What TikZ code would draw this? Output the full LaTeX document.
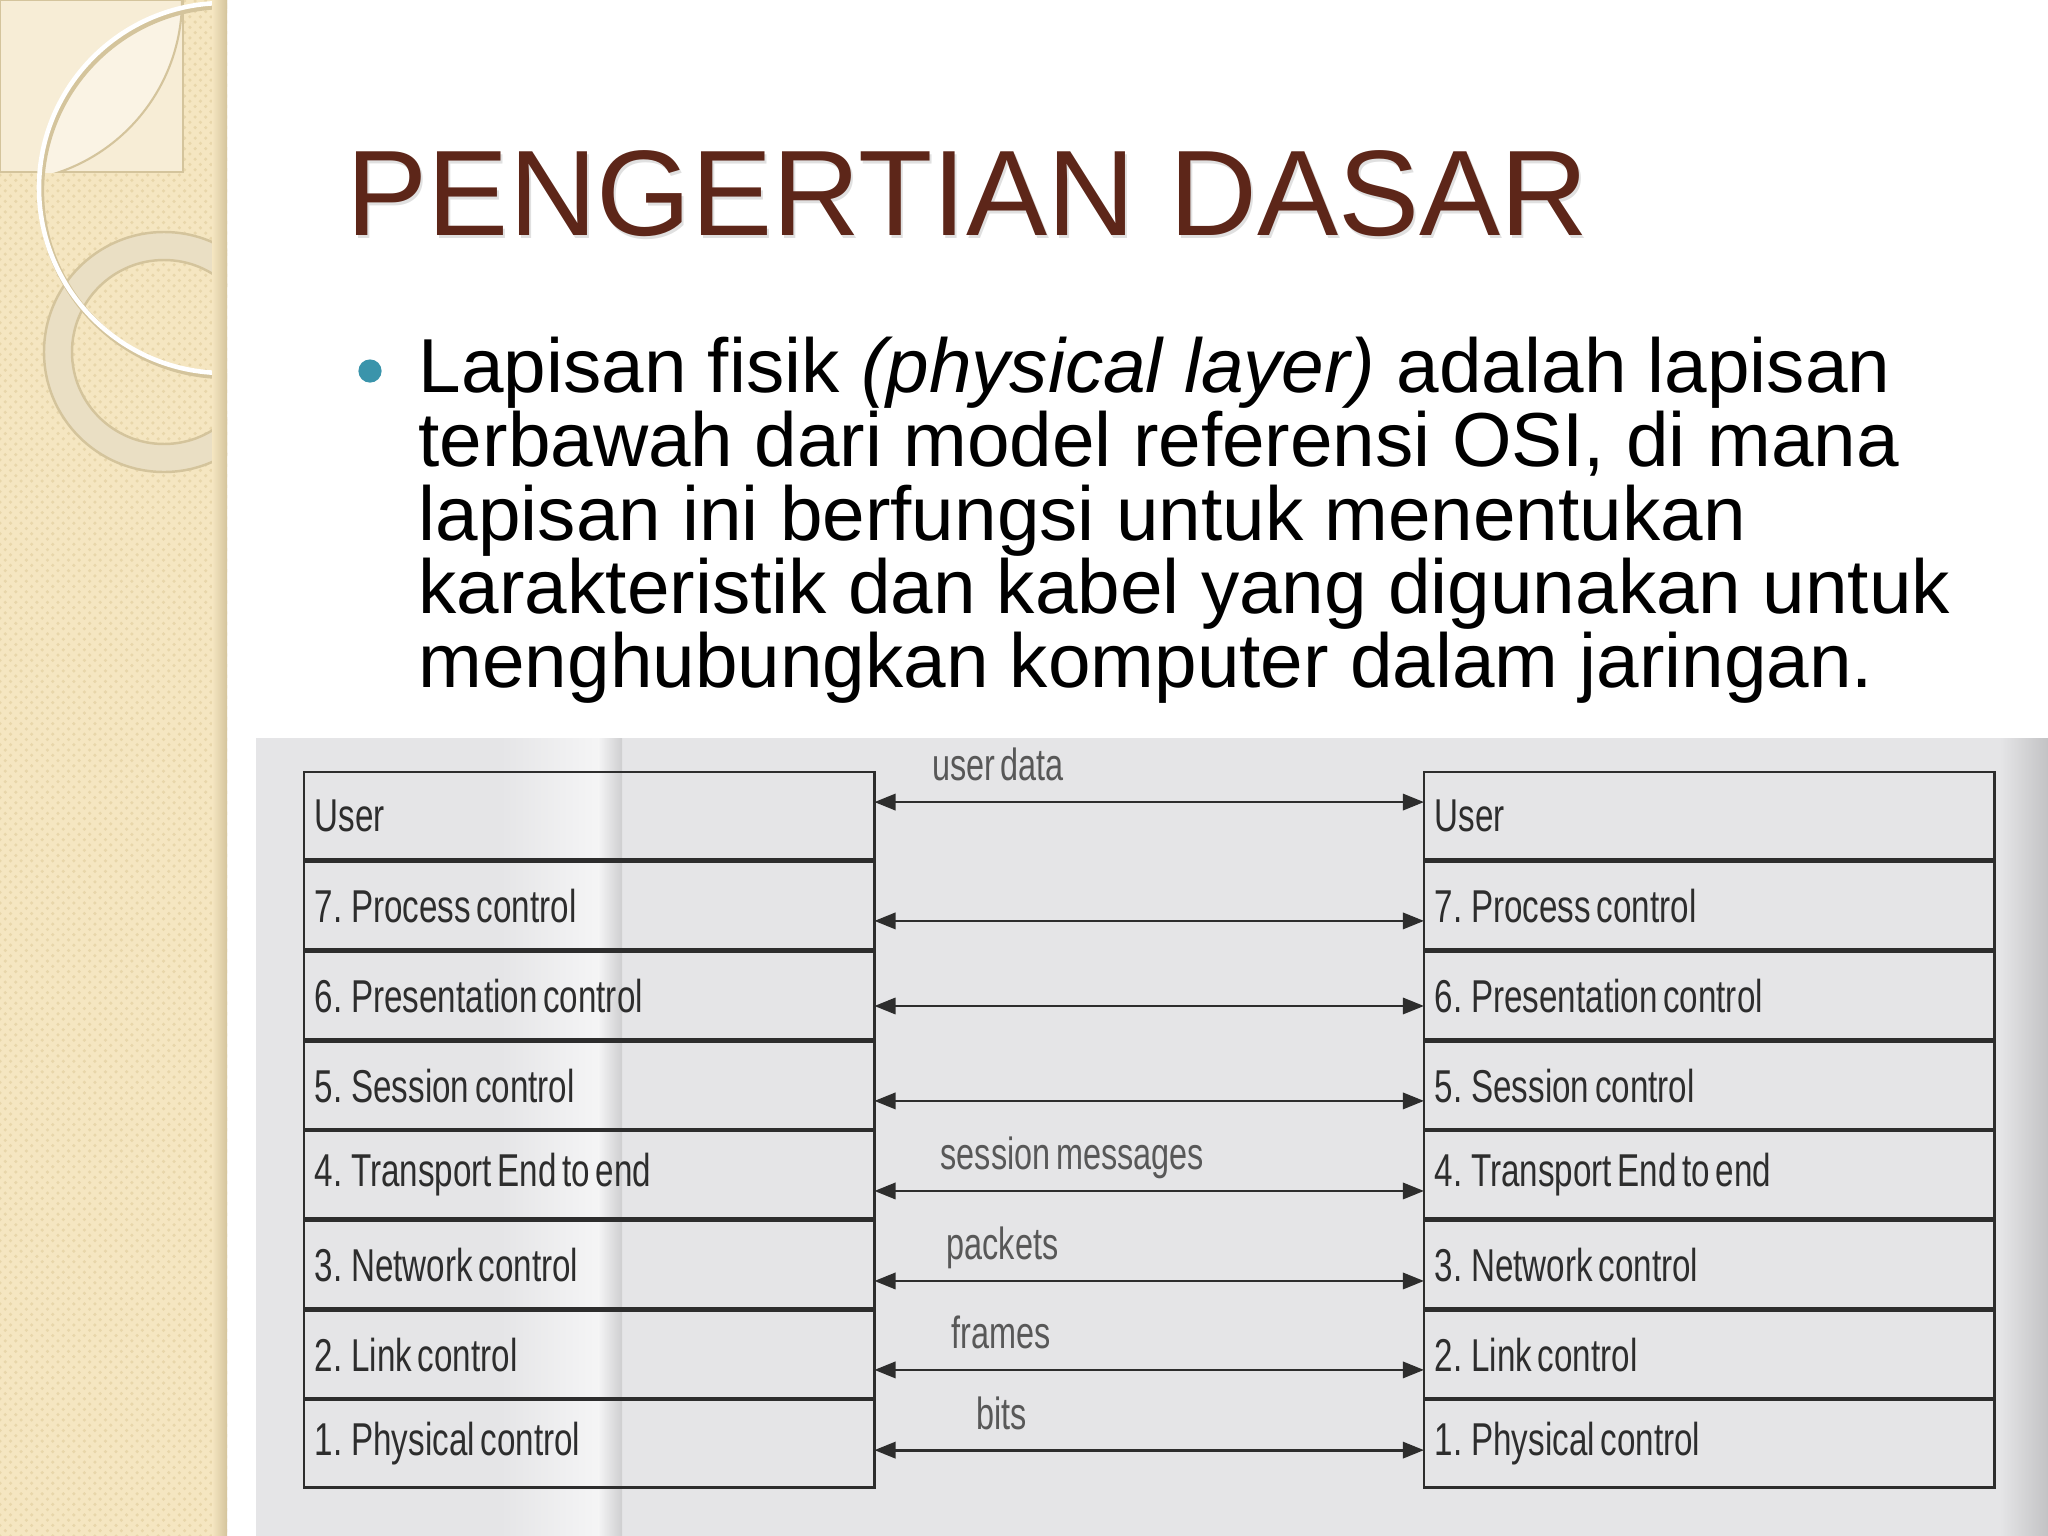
\documentclass[tikz,border=0pt]{standalone}
\usepackage{fontspec}
\setmainfont{Liberation Sans}
\newfontfamily\scanfont[FakeStretch=0.72, WordSpace=0.62]{Liberation Sans}
\usetikzlibrary{arrows.meta,patterns,positioning}

\definecolor{strip}{RGB}{245,230,193}
\definecolor{stripdot}{RGB}{232,214,170}
\definecolor{stripline}{RGB}{212,196,156}
\definecolor{paper}{RGB}{247,237,214}
\definecolor{lens}{RGB}{250,243,228}
\definecolor{ringfill}{RGB}{234,223,196}
\definecolor{titleink}{RGB}{93,38,25}
\definecolor{bulletink}{RGB}{58,148,171}
\definecolor{panel}{RGB}{229,229,231}
\definecolor{ink}{RGB}{45,45,45}
\definecolor{tagink}{RGB}{88,88,88}

\begin{document}
\begin{tikzpicture}[%
  x=0.01cm, y=-0.01cm,
  osibox/.style = {draw=ink, line width=0.65pt, outer sep=0pt, anchor=north west,
    minimum width=162.2pt, minimum height=24.9pt, text width=156pt, inner xsep=3pt,
    align=flush left, text=ink, font=\scanfont\fontsize{13.1}{15}\selectfont},
  flowtag/.style = {anchor=base, yshift=6pt, text=tagink,
    font=\scanfont\fontsize{12.8}{15}\selectfont},
  duplex/.style = {<->, line width=0.8pt, draw=ink},
  bodytext/.style = {anchor=base west, inner sep=0pt, font=\fontsize{21.76}{21}\selectfont},
  titletext/.style = {anchor=base west, inner sep=0pt, font=\fontsize{34.6}{36}\selectfont},
  >={Triangle[length=6pt, width=4.6pt]},
]

  \useasboundingbox (0,0) rectangle (2048,1536);
  \fill[white] (0,0) rectangle (2048,1536);

  % left strip
  \begin{scope}
    \clip (0,0) rectangle (227,1536);
    \fill[strip] (0,0) rectangle (227,1536);
    \fill[pattern=crosshatch dots, pattern color=stripdot] (0,0) rectangle (227,1536);
    \fill[paper, draw=stripline, line width=0.5pt] (0,0) rectangle (183,172);
    \begin{scope}
      \clip (0,0) rectangle (183,172);
      \clip (0,0) circle (182);
      \fill[lens] (224,188) circle (185);
    \end{scope}
    \begin{scope}
      \clip (0,0) rectangle (183,172);
      \draw[stripline, line width=0.6pt] (0,0) circle (182);
    \end{scope}
    % ring
    \draw[ringfill, line width=7.7pt] (164,352) circle (106);
    \draw[stripline, line width=0.7pt] (164,352) circle (120) (164,352) circle (92);
    % thin circle
    \draw[stripline, line width=1.8pt] (226,191) circle (185);
    \draw[white, line width=1.3pt] (224,188) circle (185);
    \shade[left color=strip, right color=stripline] (212,0) rectangle (227,1536);
  \end{scope}

  % title
  \node[titletext, text=black, opacity=0.12] at (348,238) {PENGERTIAN DASAR};
  \node[titletext, text=titleink] (T) at (346,235) {PENGERTIAN DASAR};

  % bullet text
  \node[circle, fill=bulletink, minimum size=6.6pt, inner sep=0pt] (B) at (370,371) {};
  \node[bodytext] (S1) at (418,392) {Lapisan fisik \textit{(physical layer)} adalah lapisan};
  \node[bodytext] (S2) at (418,466) {terbawah dari model referensi OSI, di mana};
  \node[bodytext] (S3) at (418,540) {lapisan ini berfungsi untuk menentukan};
  \node[bodytext] (S4) at (418,613) {karakteristik dan kabel yang digunakan untuk};
  \node[bodytext] (S5) at (418,687) {menghubungkan komputer dalam jaringan.};

  % scanned figure
  \fill[panel] (256,738) rectangle (2048,1536);
  \shade[left color=panel, right color=white!60!panel] (500,738) rectangle (598,1536);
  \shade[left color=white!60!panel, right color=panel!90!black] (598,738) rectangle (622,1536);
  \shade[left color=panel, right color=panel!85!black] (2000,738) rectangle (2048,1536);

  \node[osibox] (LU) at (304,772) {User};
  \node[osibox] (L7) at (304,862) {7. Process control};
  \node[osibox] (L6) at (304,952) {6. Presentation control};
  \node[osibox] (L5) at (304,1042) {5. Session control};
  \node[osibox] (L4) at (304,1131) {4. Transport End to end};
  \node[osibox] (L3) at (304,1221) {3. Network control};
  \node[osibox] (L2) at (304,1311) {2. Link control};
  \node[osibox] (L1) at (304,1400) {1. Physical control};

  \node[osibox] (RU) at (1424,772) {User};
  \node[osibox] (R7) at (1424,862) {7. Process control};
  \node[osibox] (R6) at (1424,952) {6. Presentation control};
  \node[osibox] (R5) at (1424,1042) {5. Session control};
  \node[osibox] (R4) at (1424,1131) {4. Transport End to end};
  \node[osibox] (R3) at (1424,1221) {3. Network control};
  \node[osibox] (R2) at (1424,1311) {2. Link control};
  \node[osibox] (R1) at (1424,1400) {1. Physical control};

  \draw[duplex] ([yshift=3.9pt]LU.east) -- node[flowtag, pos=0.225] {user data} ([yshift=3.9pt]RU.west);
  \draw[duplex] ([yshift=-4.3pt]L7.east) -- ([yshift=-4.3pt]R7.west);
  \draw[duplex] ([yshift=-2.9pt]L6.east) -- ([yshift=-2.9pt]R6.west);
  \draw[duplex] ([yshift=-4.3pt]L5.east) -- ([yshift=-4.3pt]R5.west);
  \draw[duplex] ([yshift=-4.6pt]L4.east) -- node[flowtag, pos=0.36] {session messages} ([yshift=-4.6pt]R4.west);
  \draw[duplex] ([yshift=-4.6pt]L3.east) -- node[flowtag, pos=0.233] {packets} ([yshift=-4.6pt]R3.west);
  \draw[duplex] ([yshift=-4.3pt]L2.east) -- node[flowtag, pos=0.231] {frames} ([yshift=-4.3pt]R2.west);
  \draw[duplex] ([yshift=-1.8pt]L1.east) -- node[flowtag, pos=0.231] {bits} ([yshift=-1.8pt]R1.west);

\end{tikzpicture}
\end{document}
